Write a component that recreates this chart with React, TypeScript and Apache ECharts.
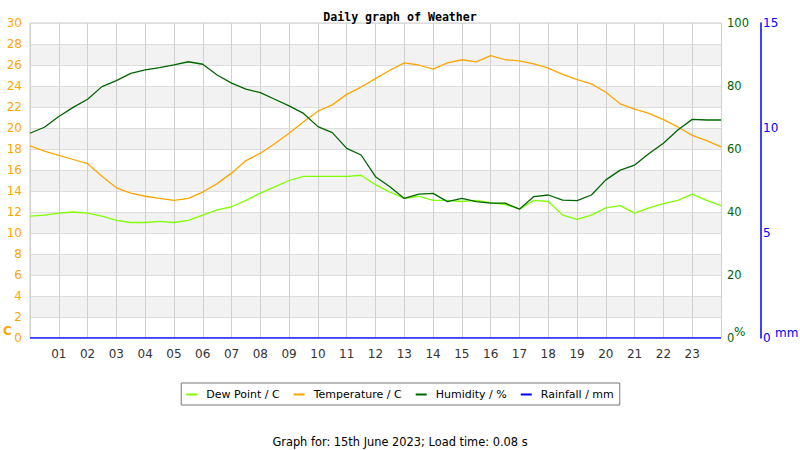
import React, { useEffect, useRef } from 'react';
import * as echarts from 'echarts';

// readings every half hour, 00:00 .. 24:00
const hours = [
  0, 0.5, 1, 1.5, 2, 2.5, 3, 3.5, 4, 4.5, 5, 5.5, 6, 6.5, 7, 7.5, 8, 8.5, 9, 9.5, 10, 10.5, 11, 11.5, 12,
  12.5, 13, 13.5, 14, 14.5, 15, 15.5, 16, 16.5, 17, 17.5, 18, 18.5, 19, 19.5, 20, 20.5, 21, 21.5, 22, 22.5,
  23, 23.5, 24,
];

const dewPoint = [
  11.6, 11.7, 11.9, 12.0, 11.9, 11.6, 11.2, 11.0, 11.0, 11.1, 11.0, 11.2, 11.7, 12.2, 12.5, 13.1, 13.8, 14.4,
  15.0, 15.4, 15.4, 15.4, 15.4, 15.5, 14.6, 13.9, 13.3, 13.5, 13.1, 13.1, 13.0, 13.1, 12.9, 12.7, 12.3, 13.1,
  13.0, 11.7, 11.3, 11.7, 12.4, 12.6, 11.9, 12.4, 12.8, 13.1, 13.7, 13.1, 12.6,
];

const temperature = [
  18.3, 17.8, 17.4, 17.0, 16.6, 15.4, 14.3, 13.8, 13.5, 13.3, 13.1, 13.3, 13.9, 14.7, 15.7, 16.9, 17.6, 18.5,
  19.5, 20.6, 21.6, 22.2, 23.2, 23.9, 24.7, 25.5, 26.2, 26.0, 25.6, 26.2, 26.5, 26.3, 26.9, 26.5, 26.4, 26.1,
  25.7, 25.1, 24.6, 24.2, 23.4, 22.3, 21.8, 21.4, 20.8, 20.1, 19.3, 18.8, 18.2,
];

const humidity = [
  65.0, 66.9, 70.3, 73.2, 75.8, 79.8, 81.7, 84.0, 85.1, 85.8, 86.7, 87.7, 86.9, 83.5, 80.9, 79.0, 77.9, 75.8,
  73.7, 71.3, 67.1, 65.2, 60.2, 58.1, 51.2, 48.0, 44.3, 45.7, 45.9, 43.3, 44.3, 43.3, 42.8, 42.8, 40.9, 44.9,
  45.4, 43.8, 43.6, 45.4, 50.2, 53.3, 54.9, 58.6, 61.8, 66.0, 69.4, 69.2, 69.2,
];

const rainfall = [
  0, 0, 0, 0, 0, 0, 0, 0, 0, 0, 0, 0, 0, 0, 0, 0, 0, 0, 0, 0, 0, 0, 0, 0, 0, 0, 0, 0, 0, 0, 0, 0, 0, 0, 0, 0,
  0, 0, 0, 0, 0, 0, 0, 0, 0, 0, 0, 0, 0,
];

const pairs = (vals: number[]) => hours.map((h, i) => [h, vals[i]]);

const FONT = 'DejaVu Sans';

const App: React.FC = () => {
  const chartRef = useRef<HTMLDivElement>(null);

  useEffect(() => {
    if (!chartRef.current) return;
    const chart = echarts.init(chartRef.current, undefined, { renderer: 'svg' });

    const line = (name: string, color: string, vals: number[], yAxisIndex: number) => ({
      name,
      type: 'line',
      yAxisIndex,
      data: pairs(vals),
      showSymbol: false,
      lineStyle: { color, width: 1.3 },
      itemStyle: { color },
    });

    chart.setOption({
      animation: false,
      backgroundColor: '#ffffff',
      textStyle: { fontFamily: FONT },
      title: [
        {
          text: 'Daily graph of Weather',
          left: 'center',
          top: 6,
          textStyle: { fontFamily: 'DejaVu Sans Mono', fontSize: 11.6, fontWeight: 'bold', color: '#000' },
        },
        {
          text: 'Graph for: 15th June 2023; Load time: 0.08 s',
          left: 'center',
          top: 431,
          textStyle: { fontFamily: FONT, fontSize: 11.4, fontWeight: 'normal', color: '#000' },
        },
      ],
      legend: {
        left: 'center',
        top: 383,
        padding: [6, 6, 5, 5],
        borderColor: '#777',
        borderWidth: 1,
        icon: 'rect',
        itemWidth: 11,
        itemHeight: 2,
        itemGap: 14,
        textStyle: { fontFamily: FONT, fontSize: 11, color: '#000', padding: [0, 0, 0, 4] },
        data: ['Dew Point / C', 'Temperature / C', 'Humidity / %', 'Rainfall / mm'],
      },
      grid: {
        left: 30,
        right: 79,
        top: 23,
        bottom: 112,
        show: true,
        borderColor: '#cccccc',
        borderWidth: 1,
      },
      xAxis: {
        type: 'value',
        min: 0,
        max: 24,
        interval: 1,
        axisLine: { show: false },
        axisTick: { show: false },
        axisLabel: {
          color: '#333',
          fontSize: 12,
          margin: 10,
          formatter: (v: number) => (v === 0 || v === 24 ? '' : String(v).padStart(2, '0')),
        },
        splitLine: { lineStyle: { color: '#d0d0d0' } },
      },
      yAxis: [
        {
          type: 'value',
          min: 0,
          max: 30,
          interval: 2,
          axisLine: { show: false },
          axisTick: { show: false },
          axisLabel: { color: '#FFA500', fontSize: 12, margin: 8 },
          splitLine: { lineStyle: { color: '#dddddd' } },
          splitArea: { show: true, areaStyle: { color: ['#ffffff', '#f2f2f2'] } },
        },
        {
          type: 'value',
          min: 0,
          max: 100,
          interval: 20,
          position: 'right',
          axisLine: { show: false },
          axisTick: { show: false },
          axisLabel: { color: '#006400', fontSize: 11.5, margin: 6 },
          splitLine: { show: false },
        },
        {
          type: 'value',
          min: 0,
          max: 15,
          interval: 5,
          position: 'right',
          offset: 40,
          axisLine: { show: true, lineStyle: { color: '#0000FF', width: 1.5 } },
          axisTick: { show: false },
          axisLabel: { color: '#0000FF', fontSize: 12, margin: 2 },
          splitLine: { show: false },
        },
      ],
      graphic: [
        {
          type: 'text',
          left: 3,
          top: 325,
          style: { text: 'C', fill: '#FFA500', font: `bold 12px "${FONT}"` },
        },
        {
          type: 'text',
          left: 734,
          top: 326,
          style: { text: '%', fill: '#006400', font: `12px "${FONT}"` },
        },
        {
          type: 'text',
          left: 775,
          top: 327,
          style: { text: 'mm', fill: '#0000FF', font: `12px "${FONT}"` },
        },
      ],
      series: [
        line('Dew Point / C', '#7FFF00', dewPoint, 0),
        line('Temperature / C', '#FFA500', temperature, 0),
        line('Humidity / %', '#006400', humidity, 1),
        line('Rainfall / mm', '#0000FF', rainfall, 2),
      ],
    });

    return () => {
      chart.dispose();
    };
  }, []);

  return (
    <div
      ref={chartRef}
      style={{ position: 'fixed', left: 0, top: 0, width: 800, height: 450 }}
    />
  );
};

export default App;
